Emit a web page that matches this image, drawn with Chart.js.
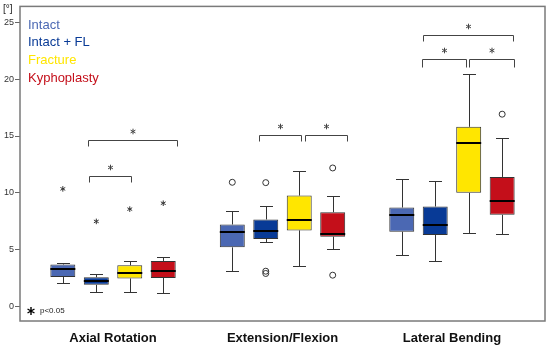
<!DOCTYPE html>
<html>
<head>
<meta charset="utf-8">
<script src="https://cdn.jsdelivr.net/npm/chart.js@4"></script>
<style>
  html, body { margin: 0; background: #fff; }
  #wrap { width: 550px; height: 345px; }
</style>
</head>
<body>
<div id="wrap"><canvas id="c"></canvas></div>
<script>
/* ─── data ─── */
const CATEGORIES = ['Axial Rotation', 'Extension/Flexion', 'Lateral Bending'];
const SERIES = ['Intact', 'Intact + FL', 'Fracture', 'Kyphoplasty'];
const COLORS = ['#4b68b3', '#083a96', '#ffe600', '#c40f1a'];
const Y_TICKS = [0, 5, 10, 15, 20, 25];

// [lower whisker, q1, median, q3, upper whisker] per category
const INTACT      = [[2.08, 2.61, 3.26, 3.70, 3.85], [3.13, 5.21, 6.55, 7.22, 8.42], [4.54, 6.58, 8.01, 8.71, 11.25]];
const INTACT_FL   = [[1.30, 1.91, 2.26, 2.58, 2.90], [5.65, 5.94, 6.64, 7.66, 8.83], [4.01, 6.29, 7.14, 8.80, 11.08]];
const FRACTURE    = [[1.30, 2.47, 2.96, 3.63, 4.04], [3.55, 6.70, 7.63, 9.76, 11.93], [6.44, 10.00, 14.40, 15.81, 20.47]];
const KYPHOPLASTY = [[1.21, 2.52, 3.17, 4.01, 4.33], [5.04, 6.15, 6.37, 8.30, 9.70], [6.41, 8.07, 9.30, 11.40, 14.81]];
const BOXES = [INTACT, INTACT_FL, FRACTURE, KYPHOPLASTY];

// [category, value, marker] ; 'o' = outlier, '*' = extreme
const INTACT_OUT      = [[0, 10.35, '*'], [1, 10.93, 'o']];
const INTACT_FL_OUT   = [[0, 7.49, '*'], [1, 10.90, 'o'], [1, 3.11, 'o'], [1, 2.91, 'o']];
const FRACTURE_OUT    = [[0, 8.57, '*']];
const KYPHOPLASTY_OUT = [[0, 9.09, '*'], [1, 12.19, 'o'], [1, 2.76, 'o'], [2, 16.92, 'o']];
const OUTLIERS = [INTACT_OUT, INTACT_FL_OUT, FRACTURE_OUT, KYPHOPLASTY_OUT];

// significance brackets: [category, from slot, to slot, y value]
const BRACKETS = [
    [0, 0.74, 3.40, 14.69], [0, 0.78, 2.03, 11.45],
    [1, 0.80, 2.04, 15.08], [1, 2.17, 3.42, 15.08],
    [2, 0.63, 3.31, 23.92], [2, 0.60, 1.93, 21.76], [2, 2.00, 3.34, 21.76],
];

const FONT = '"Liberation Sans", Arial, sans-serif';
const INK = '#333';

/* ─── helpers ─── */
function star(ctx, x, y, r) {
    ctx.beginPath();
    for (let k = 0; k < 3; k++) {
        const a = Math.PI / 2 + k * Math.PI / 3;
        ctx.moveTo(x - r * Math.cos(a), y - r * Math.sin(a));
        ctx.lineTo(x + r * Math.cos(a), y + r * Math.sin(a));
    }
    ctx.stroke();
}

const boxPlugin = {
    id: 'boxExtras',
    beforeDatasetsDraw(chart) {
        const { ctx, chartArea: a, scales: { y } } = chart;
        ctx.save();
        ctx.strokeStyle = '#7a7a7a';
        ctx.lineWidth = 1.5;
        ctx.strokeRect(a.left, a.top, a.right - a.left, a.bottom - a.top);

        /* whiskers */
        ctx.strokeStyle = INK;
        ctx.lineWidth = 1;
        BOXES.forEach((rows, s) => {
            const meta = chart.getDatasetMeta(s);
            rows.forEach((r, i) => {
                const bar = meta.data[i];
                const cap = bar.width * 0.26;
                const bx = Math.round(bar.x) + 0.5;
                [[r[0], r[1]], [r[4], r[3]]].forEach(([end, edge]) => {
                    const ye = Math.round(y.getPixelForValue(end)) + 0.5, yb = y.getPixelForValue(edge);
                    ctx.beginPath();
                    ctx.moveTo(bx, yb); ctx.lineTo(bx, ye);
                    ctx.moveTo(bx - cap, ye); ctx.lineTo(bx + cap, ye);
                    ctx.stroke();
                });
            });
        });
        ctx.restore();
    },
    afterDatasetsDraw(chart) {
        const { ctx, chartArea: a, scales: { y } } = chart;
        ctx.save();

        /* medians */
        ctx.strokeStyle = '#000';
        ctx.lineWidth = 2;
        BOXES.forEach((rows, s) => {
            const meta = chart.getDatasetMeta(s);
            rows.forEach((r, i) => {
                const bar = meta.data[i];
                const ym = Math.round(y.getPixelForValue(r[2]));
                ctx.beginPath();
                ctx.moveTo(bar.x - bar.width / 2, ym);
                ctx.lineTo(bar.x + bar.width / 2, ym);
                ctx.stroke();
            });
        });

        /* outliers */
        ctx.lineWidth = 1;
        ctx.strokeStyle = INK;
        OUTLIERS.forEach((list, s) => {
            const meta = chart.getDatasetMeta(s);
            list.forEach(([i, v, m]) => {
                const px = meta.data[i].x, py = y.getPixelForValue(v);
                if (m === 'o') {
                    ctx.beginPath();
                    ctx.arc(px, py, 3, 0, Math.PI * 2);
                    ctx.stroke();
                } else {
                    star(ctx, px, py, 2.8);
                }
            });
        });

        /* brackets */
        const m0 = chart.getDatasetMeta(0), m1 = chart.getDatasetMeta(1);
        BRACKETS.forEach(([i, f, t, v]) => {
            const x0 = m0.data[i].x, step = m1.data[i].x - x0;
            const xa = Math.round(x0 + f * step) + 0.5, xb = Math.round(x0 + t * step) + 0.5;
            const yy = Math.round(y.getPixelForValue(v)) + 0.5;
            const drop = v > 20 && v < 23 ? 8 : 6;
            ctx.strokeStyle = '#444';
            ctx.beginPath();
            ctx.moveTo(xa, yy + drop); ctx.lineTo(xa, yy); ctx.lineTo(xb, yy); ctx.lineTo(xb, yy + drop);
            ctx.stroke();
            star(ctx, (xa + xb) / 2, yy - 9, 2.8);
        });

        /* legend */
        ctx.font = '13px ' + FONT;
        ctx.textBaseline = 'middle';
        ctx.textAlign = 'left';
        SERIES.forEach((name, s) => {
            ctx.fillStyle = COLORS[s];
            ctx.fillText(name, a.left + 8, 25 + s * 17.7);
        });

        /* footnote */
        ctx.strokeStyle = '#000';
        ctx.lineWidth = 1.4;
        star(ctx, a.left + 11, 311, 4);
        ctx.fillStyle = '#222';
        ctx.font = '8px ' + FONT;
        ctx.fillText('p<0.05', a.left + 20, 311);

        /* unit */
        ctx.font = '10px ' + FONT;
        ctx.fillStyle = '#222';
        ctx.fillText('[°]', 3, 9);
        ctx.restore();
    },
};

new Chart(document.getElementById('c'), {
    type: 'bar',
    data: {
        datasets: SERIES.map((name, s) => ({
            label: name,
            data: BOXES[s].map((r, i) => ({ x: i + 1, y: [r[1], r[3]] })),
            backgroundColor: COLORS[s],
            borderColor: INK,
            borderWidth: 1,
            borderSkipped: false,
            categoryPercentage: 0.79,
            barPercentage: 0.746,
        })),
    },
    options: {
        responsive: true,
        maintainAspectRatio: false,
        animation: false,
        layout: { padding: { top: 5, right: 5, left: 0, bottom: 0 } },
        plugins: { legend: { display: false }, tooltip: { enabled: false } },
        scales: {
            x: {
                type: 'linear',
                offset: false,
                min: 0.451,
                max: 3.549,
                afterBuildTicks: s => { s.ticks = CATEGORIES.map((c, i) => ({ value: i + 1 })); },
                afterFit: s => { s.height = 24; },
                grid: { display: false, offset: false },
                border: { display: false },
                ticks: {
                    callback: v => CATEGORIES[v - 1],
                    color: '#111',
                    padding: 2,
                    maxRotation: 0,
                    font: { family: FONT, size: 13, weight: 'bold' },
                },
            },
            y: {
                min: -1.27,
                max: 26.4,
                afterBuildTicks: s => { s.ticks = Y_TICKS.map(v => ({ value: v })); },
                afterFit: s => { s.width = 20; },
                grid: { drawOnChartArea: false, tickLength: 5, color: '#666' },
                border: { display: false },
                ticks: { color: '#333', padding: 1, font: { family: FONT, size: 9 } },
            },
        },
    },
    plugins: [boxPlugin],
});
</script>
</body>
</html>
